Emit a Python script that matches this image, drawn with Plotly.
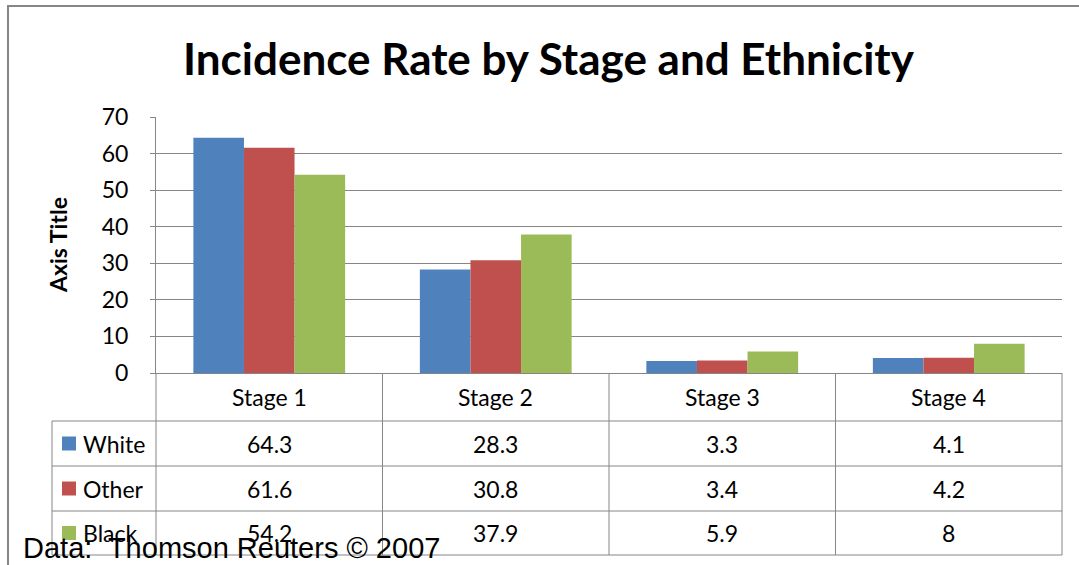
import plotly.graph_objects as go

# ---- data ----
categories = ["Stage 1", "Stage 2", "Stage 3", "Stage 4"]
series_names = ["White", "Other", "Black"]
white = [64.3, 28.3, 3.3, 4.1]
other = [61.6, 30.8, 3.4, 4.2]
black = [54.2, 37.9, 5.9, 8]
table_labels = ["64.3", "28.3", "3.3", "4.1"], ["61.6", "30.8", "3.4", "4.2"], ["54.2", "37.9", "5.9", "8"]
colors = ["#4F81BD", "#C0504D", "#9BBB59"]
y_ticks = [0, 10, 20, 30, 40, 50, 60, 70]
title_text = "Incidence Rate by Stage and Ethnicity"
axis_title = "Axis Title"
footer = "Data:  Thomson Reuters © 2007"

# ---- layout geometry (pixels) ----
W, H = 1079, 565
L, R, T, B = 156, 1062, 117, 373
GRID = "#868686"
FONT = "Lato"
TFS = 23  # table font size

def px2x(px):
    return (px - L) / (R - L)

def py2y(py):
    return (B - py) / (B - T)

series = [white, other, black]
fig = go.Figure()
for name, vals, col in zip(series_names, series, colors):
    fig.add_trace(go.Bar(x=categories, y=vals, name=name, marker_color=col,
                         marker_line_width=0, showlegend=False))

shapes = []
annotations = []

header_bottom = 421
row_lines = [421, 466, 511, 555]
row_centers = [(row_lines[i] + row_lines[i + 1]) / 2 for i in range(3)]
label_left = 52

for py in row_lines:
    shapes.append(dict(type="line", xref="paper", yref="paper",
                       x0=px2x(label_left), x1=1, y0=py2y(py), y1=py2y(py),
                       line=dict(color=GRID, width=1)))
n = len(categories)
for k in range(n + 1):
    shapes.append(dict(type="line", xref="paper", yref="paper",
                       x0=k / n, x1=k / n, y0=0, y1=py2y(row_lines[-1]),
                       line=dict(color=GRID, width=1)))
shapes.append(dict(type="line", xref="paper", yref="paper",
                   x0=px2x(label_left), x1=px2x(label_left),
                   y0=py2y(row_lines[0]), y1=py2y(row_lines[-1]),
                   line=dict(color=GRID, width=1)))

for c in categories:
    annotations.append(dict(x=c, xref="x", y=py2y((B + header_bottom) / 2), yref="paper",
                            text=c, showarrow=False, xanchor="center", yanchor="middle",
                            font=dict(family=FONT, size=TFS, color="#000000")))
for r, (vals, lab) in enumerate(zip(series, table_labels)):
    for c, txt in zip(categories, lab):
        annotations.append(dict(x=c, xref="x", y=py2y(row_centers[r]), yref="paper",
                                text=txt, showarrow=False, xanchor="center", yanchor="middle",
                                font=dict(family=FONT, size=TFS, color="#000000")))
    cy = row_centers[r]
    shapes.append(dict(type="rect", xref="paper", yref="paper",
                       x0=px2x(62), x1=px2x(76), y0=py2y(cy - 7), y1=py2y(cy + 7),
                       fillcolor=colors[r], line=dict(width=0)))
    annotations.append(dict(x=px2x(81), xref="paper", y=py2y(cy), yref="paper",
                            text=series_names[r], showarrow=False, xanchor="left", yanchor="middle",
                            font=dict(family=FONT, size=TFS, color="#000000")))

# outer border (left and top)
shapes.append(dict(type="line", xref="paper", yref="paper",
                   x0=px2x(8), x1=px2x(8), y0=py2y(5), y1=py2y(566),
                   line=dict(color=GRID, width=2)))
shapes.append(dict(type="line", xref="paper", yref="paper",
                   x0=px2x(7), x1=px2x(1080), y0=py2y(6), y1=py2y(6),
                   line=dict(color=GRID, width=2)))

annotations.append(dict(x=px2x(549), xref="paper", y=py2y(58), yref="paper",
                        text=title_text, showarrow=False, xanchor="center", yanchor="middle",
                        font=dict(family=FONT, size=44, color="#000000", weight="bold")))
annotations.append(dict(x=px2x(58), xref="paper", y=py2y(245), yref="paper",
                        text=axis_title, showarrow=False, xanchor="center", yanchor="middle",
                        textangle=-90,
                        font=dict(family=FONT, size=23, color="#000000", weight="bold")))
annotations.append(dict(x=px2x(21), xref="paper", y=py2y(548), yref="paper",
                        text=footer, showarrow=False, xanchor="left", yanchor="middle",
                        font=dict(family="Liberation Sans", size=29, color="#000000")))

fig.update_layout(
    width=W, height=H,
    margin=dict(l=L, r=W - R, t=T, b=H - B, pad=0),
    paper_bgcolor="white", plot_bgcolor="white",
    barmode="group", bargap=0.33, bargroupgap=0,
    shapes=shapes, annotations=annotations,
    showlegend=False,
)
fig.update_xaxes(showticklabels=False, showgrid=False, showline=True,
                 linecolor=GRID, linewidth=1, ticks="", zeroline=False)
fig.update_yaxes(range=[0, 70], tickvals=y_ticks, showgrid=True, gridcolor=GRID, gridwidth=1,
                 showline=True, linecolor=GRID, linewidth=1, ticks="outside", ticklen=5,
                 tickcolor=GRID, ticklabelstandoff=17, zeroline=False,
                 tickfont=dict(family=FONT, size=TFS, color="#000000"))

fig.write_html("out.html", config={"displayModeBar": False},
               post_script="document.body.style.margin='0';document.body.style.overflow='hidden';")
